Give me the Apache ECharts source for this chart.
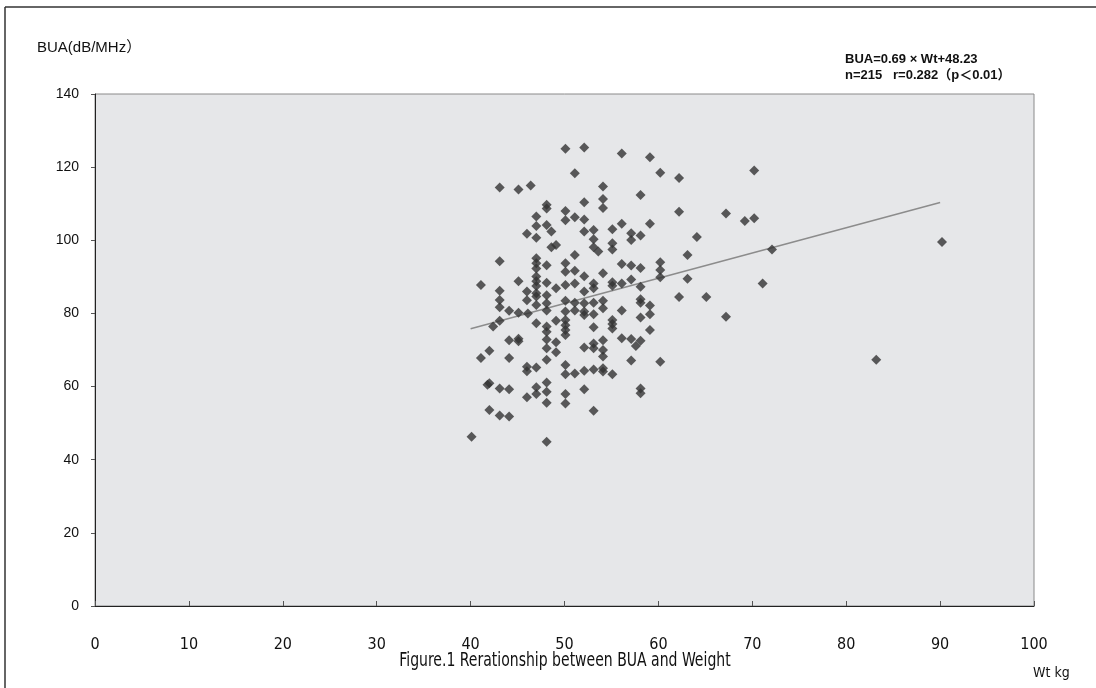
<!DOCTYPE html>
<html><head><meta charset="utf-8">
<script src="https://cdn.jsdelivr.net/npm/echarts@6/dist/echarts.min.js"></script>
<style>html,body{margin:0;padding:0;background:#fff}#c{width:1096px;height:688px}</style>
</head><body><div id="c"></div>
<script>
const xTicks = [0,10,20,30,40,50,60,70,80,90,100];
const yTicks = [0,20,40,60,80,100,120,140];
const weight = [40.1,41.1,41.1,41.8,42,42,42,42.4,43.1,43.1,43.1,43.1,43.1,43.1,43.1,43.1,44.1,44.1,44.1,44.1,44.1,45.1,45.1,45.1,45.1,45.1,46.4,46,46,46,46.1,46,46,46,
47,47,47,47,47,47,47,47,47,47,47,47,47,47,47,47,
48.1,48.1,48.1,48.1,48.1,48.1,48.1,48.1,48.1,48.1,48.1,48.1,48.1,48.1,48.1,48.1,48.1,48.6,48.6,
49.1,49.1,49.1,49.1,49.1,
50.1,50.1,50.1,50.1,50.1,50.1,50.1,50.1,50.1,50.1,50.1,50.1,50.1,50.1,50.1,50.1,
51.1,51.1,51.1,51.1,51.1,51.1,51.1,51.1,
52.1,52.1,52.1,52.1,52.1,52.1,52.1,52.1,52.1,52.1,52.1,52.1,
53.1,53.1,53.1,53.6,53.1,53.1,53.1,53.1,53.1,53.1,53.1,53.1,53.1,
54.1,54.1,54.1,54.1,54.1,54.1,54.1,54.1,54.1,54.1,54.1,
55.1,55.1,55.1,55.1,55.1,55.1,55.1,55.1,55.1,
56.1,56.1,56.1,56.1,56.1,56.1,
57.1,57.1,57.1,57.1,57.1,57.6,57.1,
58.1,58.1,58.1,58.1,58.1,58.1,58.1,58.1,58.1,58.1,
59.1,59.1,59.1,59.1,59.1,
60.2,60.2,60.2,60.2,60.2,
62.2,62.2,62.2,63.1,63.1,64.1,65.1,67.2,67.2,69.2,70.2,70.2,71.1,72.1,83.2,90.2];
const bua = [46.3,87.8,67.8,60.5,60.9,69.8,53.6,76.4,114.4,94.3,86.2,83.7,81.7,78,59.5,52.1,80.7,72.7,67.8,59.3,51.8,113.9,88.8,80.2,73.1,72.4,115,101.8,86,83.6,80,65.4,64.2,57.1,
106.5,103.9,100.7,95.1,93.7,92.3,90.1,88.8,87.5,85.5,84.6,82.3,77.3,65.2,59.8,58,
109.7,108.7,104.2,93.2,88.4,85,82.8,80.8,76.4,75,72.9,70.5,67.3,61.1,58.6,55.6,44.9,102.4,98.1,
98.7,86.9,78,72.1,69.4,
125,108,105.5,93.7,91.4,87.8,83.5,80.5,78.2,76.8,75.5,74.1,65.9,63.4,58,55.4,
118.3,106.3,96,91.7,88.2,82.9,80.8,63.6,
125.4,110.4,105.7,102.4,90.2,86,82.8,80.5,79.6,70.7,64.3,59.3,
102.8,100.3,98.1,96.9,88.2,86.9,82.9,79.8,76.2,71.8,70.5,64.7,53.4,
114.7,111.3,108.8,91,83.5,81.4,72.7,70,68.2,65,64.1,
103,99.2,97.5,88.5,87.6,78.2,77.1,75.9,63.4,
123.7,104.5,93.5,88.2,80.8,73.2,
101.9,100.1,93.1,89.3,73,71.1,67.1,
112.4,101.3,92.4,87.3,83.9,82.9,78.9,72.5,59.5,58.2,
122.7,104.5,82.2,79.8,75.5,
118.5,94,91.9,89.9,66.8,
117,107.8,84.5,96,89.5,100.9,84.5,107.3,79.1,105.3,119.1,106,88.2,97.5,67.3,99.5];
const slope = 0.69, intercept = 48.23;
const fitX = [40, 90];

const points = weight.map((w,i)=>[w,bua[i]]);
const fitLine = fitX.map(x=>[x, slope*x+intercept]);
const narrow = "'Liberation Sans Narrow','DejaVu Sans Condensed',sans-serif";
const sans = "'Liberation Sans',Arial,'Noto Sans CJK JP',sans-serif";
const chart = echarts.init(document.getElementById('c'));
chart.setOption({
  animation:false,
  backgroundColor:'#fff',
  grid:{left:95, top:94, width:939, height:512, show:true, backgroundColor:'#e6e7e9', borderColor:'#8a8a8a', borderWidth:1},
  xAxis:{type:'value', min:0, max:100, interval:10,
    axisLine:{show:true, lineStyle:{color:'#222', width:1}},
    axisTick:{show:true, inside:true, length:5, lineStyle:{color:'#555'}},
    splitLine:{show:false},
    axisLabel:{color:'#111', fontSize:16, fontFamily:narrow, margin:31}},
  yAxis:{type:'value', min:0, max:140, interval:20,
    axisLine:{show:true, lineStyle:{color:'#222', width:1}},
    axisTick:{show:true, length:4, lineStyle:{color:'#555'}},
    splitLine:{show:false},
    axisLabel:{color:'#111', fontSize:14, fontFamily:sans, margin:16}},
  graphic:[
    {type:'line', shape:{x1:5,y1:7,x2:1096,y2:7}, style:{stroke:'#333', lineWidth:1.5}},
    {type:'line', shape:{x1:5,y1:7,x2:5,y2:688}, style:{stroke:'#333', lineWidth:1.5}},
    {type:'text', x:37, y:48, style:{text:'BUA(dB/MHz）', fill:'#111', font:"15px "+sans, textVerticalAlign:'middle'}},
    {type:'text', x:845, y:59, style:{text:'BUA=0.69 × Wt+48.23', fill:'#111', font:"bold 13px "+sans, textVerticalAlign:'middle'}},
    {type:'text', x:845, y:75, style:{text:'n=215   r=0.282（p＜0.01）', fill:'#111', font:"bold 13px "+sans, textVerticalAlign:'middle'}},
    {type:'text', x:565, y:661, scaleX:0.82, style:{text:'Figure.1 Rerationship between BUA and Weight', fill:'#111', font:"19px "+narrow, textAlign:'center', textVerticalAlign:'middle'}},
    {type:'text', x:1033, y:673, style:{text:'Wt kg', fill:'#111', font:"14px "+narrow, textVerticalAlign:'middle'}}
  ],
  series:[
    {type:'scatter', data:points, symbol:'diamond', symbolSize:10, itemStyle:{color:'#333'}, z:3},
    {type:'line', data:fitLine, symbol:'none', lineStyle:{color:'#8c8c8c', width:1.5}, z:2}
  ]
});
</script></body></html>
